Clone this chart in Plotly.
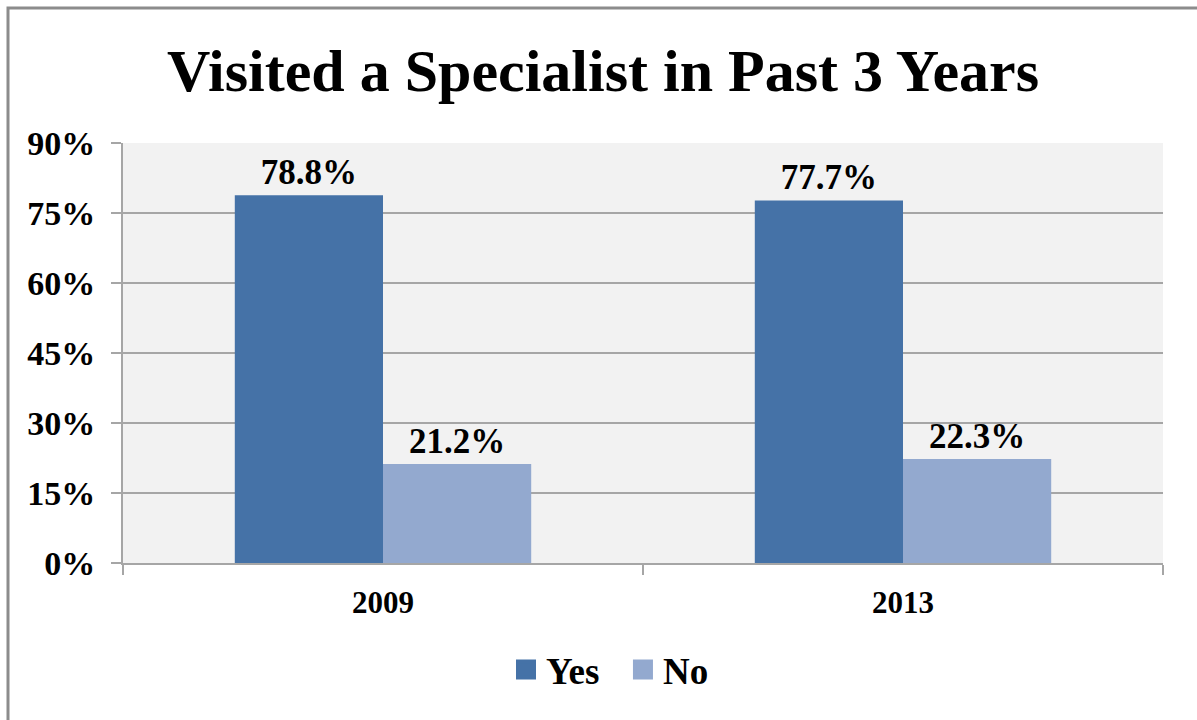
import plotly.graph_objects as go

years = ["2009", "2013"]
yes_pct = [78.8, 77.7]
no_pct = [21.2, 22.3]
y_ticks = [0, 15, 30, 45, 60, 75, 90]

FONT = "Liberation Serif"
GRID = "#a6a6a6"
YES_COLOR = "#4572a7"
NO_COLOR = "#93a9cf"

fig = go.Figure()
for name, vals, color in [("Yes", yes_pct, YES_COLOR), ("No", no_pct, NO_COLOR)]:
    fig.add_trace(go.Bar(
        name=name, x=years, y=vals,
        marker=dict(color=color, line=dict(width=0)),
        texttemplate="<b>%{y:.1f}%</b>", textposition="outside",
        textfont=dict(family=FONT, size=35, color="black"),
        cliponaxis=False, showlegend=False,
    ))

# legend entries with larger square swatches
legend_labels = ["<b>Yes</b>\u00a0\u00a0", "<b>No</b>"]
for label, color in zip(legend_labels, [YES_COLOR, NO_COLOR]):
    fig.add_trace(go.Scatter(
        name=label, x=[None], y=[None], mode="markers",
        marker=dict(symbol="square", size=16, color=color,
                    line=dict(color=color, width=4)),
        showlegend=True,
    ))

L, R, T, B = 123, 34, 143, 157
W, H = 1197, 720
pw, ph = W - L - R, H - T - B

fig.update_layout(
    width=W, height=H,
    margin=dict(l=L, r=R, t=T, b=B),
    paper_bgcolor="white",
    plot_bgcolor="#f2f2f2",
    barmode="group",
    bargap=0.43,
    bargroupgap=0,
    font=dict(family=FONT, color="black"),
    title=dict(
        text="<b>Visited a Specialist in Past 3 Years</b>",
        x=(603 - L) / pw, xref="paper", xanchor="center", y=1 - 70 / H, yanchor="middle",
        font=dict(family=FONT, size=60, color="black"),
    ),
    showlegend=True,
    legend=dict(
        orientation="h", x=(610 - L) / pw, xanchor="center",
        y=-(670 - (H - B)) / ph, yanchor="middle",
        font=dict(family=FONT, size=37, color="black"),
        itemsizing="trace", traceorder="normal",
        bgcolor="rgba(0,0,0,0)", itemwidth=30,
    ),
    xaxis=dict(
        type="category",
        showline=True, linecolor=GRID, linewidth=2,
        ticks="outside", tickson="boundaries", ticklen=10, tickcolor=GRID, tickwidth=2,
        tickfont=dict(family=FONT, size=31, color="black"),
        tickprefix="<b>", ticksuffix="</b>",
        ticklabelstandoff=11,
        showgrid=False,
    ),
    yaxis=dict(
        range=[0, 90], tickvals=y_ticks,
        ticktext=[f"<b>{v}%</b>" for v in y_ticks],
        showline=True, linecolor=GRID, linewidth=2,
        ticks="outside", ticklen=10, tickcolor=GRID, tickwidth=2,
        showgrid=True, gridcolor=GRID, gridwidth=2,
        tickfont=dict(family=FONT, size=34, color="black"),
        ticklabelstandoff=9,
        zeroline=False,
    ),
    shapes=[dict(
        type="rect", xref="paper", yref="paper",
        x0=(8 - L) / pw, x1=(W + 20 - L) / pw,
        y0=-(H + 20 - (H - B)) / ph, y1=(H - B - 8) / ph,
        line=dict(color="#8c8c8c", width=3), fillcolor="rgba(0,0,0,0)",
        layer="below",
    )],
)

fig.write_html("out.html")
